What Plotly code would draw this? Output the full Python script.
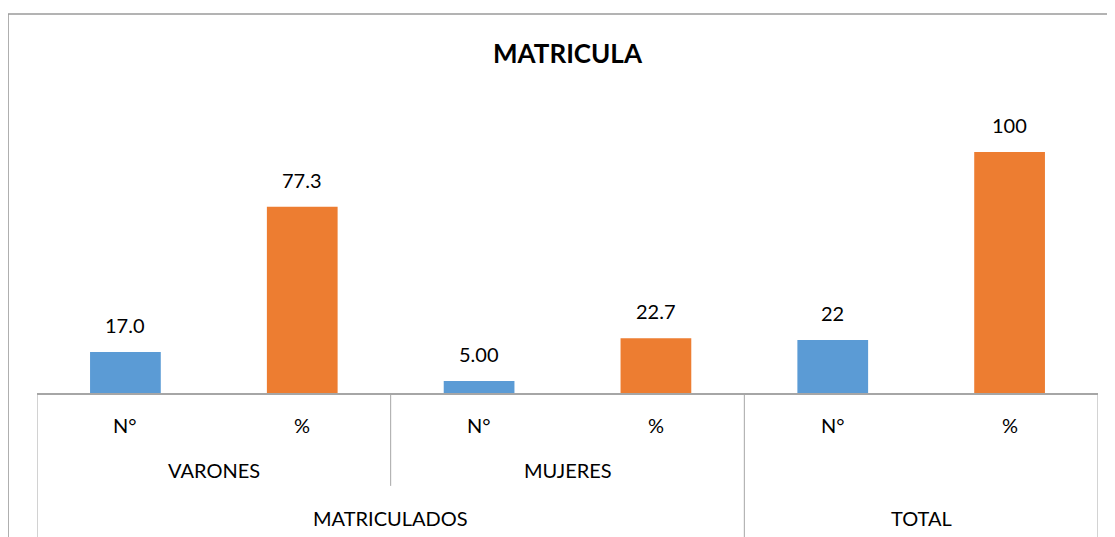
import plotly.graph_objects as go

# datos
medidas = ["N°", "%", "N°", "%", "N°", "%"]
sexo = ["VARONES", "MUJERES"]
grupos = ["MATRICULADOS", "TOTAL"]
valores = [17.0, 77.3, 5.0, 22.7, 22, 100]
etiquetas = ["17.0", "77.3", "5.00", "22.7", "22", "100"]
colores = ["#5B9BD5", "#ED7D31"] * 3

FONT = "Lato, 'Liberation Sans', Arial, sans-serif"
GRIS = "#a6a6a6"
TAM = 20

xs = list(range(len(valores)))

fig = go.Figure()
fig.add_trace(go.Bar(
    x=xs, y=valores, width=0.4,
    marker=dict(color=colores, line=dict(width=0)),
    showlegend=False, hoverinfo="y"
))

annotations = []
for x, v, t in zip(xs, valores, etiquetas):
    annotations.append(dict(x=x, y=v, text=t, showarrow=False, yanchor="bottom",
                            yshift=13, font=dict(size=TAM, color="#000", family=FONT)))
# nivel 1: N° / %
for x, m in zip(xs, medidas):
    annotations.append(dict(x=x, y=0, yref="paper", text=m, showarrow=False,
                            yanchor="middle", yshift=-32,
                            font=dict(size=TAM, color="#000", family=FONT)))
# nivel 2: VARONES / MUJERES
for i, s in enumerate(sexo):
    annotations.append(dict(x=2 * i + 0.5, y=0, yref="paper", text=s, showarrow=False,
                            yanchor="middle", yshift=-77,
                            font=dict(size=TAM, color="#000", family=FONT)))
# nivel 3: MATRICULADOS / TOTAL
annotations.append(dict(x=1.5, y=0, yref="paper", text=grupos[0], showarrow=False,
                        yanchor="middle", yshift=-125,
                        font=dict(size=TAM, color="#000", family=FONT)))
annotations.append(dict(x=4.5, y=0, yref="paper", text=grupos[1], showarrow=False,
                        yanchor="middle", yshift=-125,
                        font=dict(size=TAM, color="#000", family=FONT)))

shapes = [
    # marco del grafico
    dict(type="rect", xref="paper", yref="paper", x0=-0.0273, x1=1.2, y0=-0.8, y1=1.2935,
         line=dict(color="#9a9a9a", width=1.5), fillcolor="rgba(0,0,0,0)", layer="below"),
]
for xd, y1 in [(-0.5, -0.55), (1.5, -0.317), (3.5, -0.55), (5.5, -0.55)]:
    shapes.append(dict(type="line", xref="x", yref="paper", x0=xd, x1=xd, y0=0, y1=y1,
                       line=dict(color=GRIS, width=1)))

fig.update_layout(
    width=1115, height=537,
    margin=dict(l=29, r=25, t=92, b=152),
    paper_bgcolor="white", plot_bgcolor="white",
    title=dict(text="<b>MATRICULA</b>", x=0.5, xanchor="center", y=0.915, yanchor="middle",
               xref="paper",
               font=dict(size=26, color="#000", family=FONT)),
    xaxis=dict(range=[-0.5, 5.5], showticklabels=False, showgrid=False, zeroline=False,
               showline=True, linecolor=GRIS, linewidth=1.5, ticks=""),
    yaxis=dict(range=[0, 121.6], visible=False, showgrid=False, zeroline=False),
    annotations=annotations,
    shapes=shapes,
    bargap=0.6,
)

fig.write_html("out.html")
